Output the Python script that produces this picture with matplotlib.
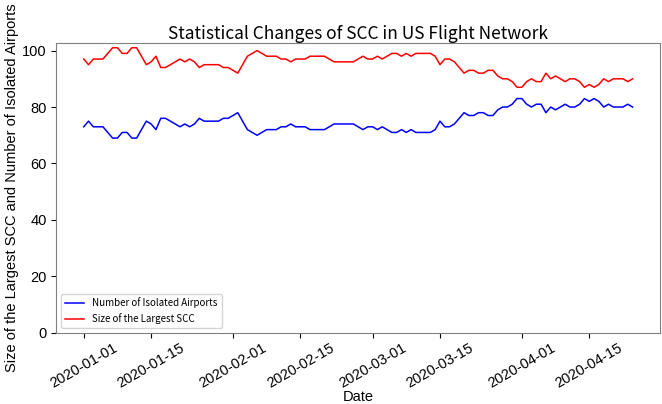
import numpy as np
import pandas as pd
import matplotlib
matplotlib.use("Agg")
import matplotlib.pyplot as plt
import matplotlib.dates as mdates

plt.rcParams['font.family'] = ['Liberation Sans', 'DejaVu Sans']

dates = pd.date_range('2020-01-01', periods=115, freq='D')

isolated = [73, 75, 73, 73, 73, 71, 69, 69, 71, 71, 69, 69, 72, 75, 74, 72, 76, 76, 75, 74,
            73, 74, 73, 74, 76, 75, 75, 75, 75, 76, 76, 77, 78, 75, 72, 71, 70, 71, 72, 72,
            72, 73, 73, 74, 73, 73, 73, 72, 72, 72, 72, 73, 74, 74, 74, 74, 74, 73, 72, 73,
            73, 72, 73, 72, 71, 71, 72, 71, 72, 71, 71, 71, 71, 72, 75, 73, 73, 74, 76, 78,
            77, 77, 78, 78, 77, 77, 79, 80, 80, 81, 83, 83, 81, 80, 81, 81, 78, 80, 79, 80,
            81, 80, 80, 81, 83, 82, 83, 82, 80, 81, 80, 80, 80, 81, 80]

largest_scc = [97, 95, 97, 97, 97, 99, 101, 101, 99, 99, 101, 101, 98, 95, 96, 98, 94, 94, 95, 96,
               97, 96, 97, 96, 94, 95, 95, 95, 95, 94, 94, 93, 92, 95, 98, 99, 100, 99, 98, 98,
               98, 97, 97, 96, 97, 97, 97, 98, 98, 98, 98, 97, 96, 96, 96, 96, 96, 97, 98, 97,
               97, 98, 97, 98, 99, 99, 98, 99, 98, 99, 99, 99, 99, 98, 95, 97, 97, 96, 94, 92,
               93, 93, 92, 92, 93, 93, 91, 90, 90, 89, 87, 87, 89, 90, 89, 89, 92, 90, 91, 90,
               89, 90, 90, 89, 87, 88, 87, 88, 90, 89, 90, 90, 90, 89, 90]

fig = plt.figure(figsize=(6.62, 4.04), dpi=100)
ax = fig.add_axes([0.085, 0.176, 0.912, 0.717])

ax.plot(dates, isolated, color='blue', linewidth=1.1, label='Number of Isolated Airports')
ax.plot(dates, largest_scc, color='red', linewidth=1.1, label='Size of the Largest SCC')

ax.set_ylim(0, 102.6)
ax.set_yticks([0, 20, 40, 60, 80, 100])
ax.xaxis.set_major_locator(mdates.DayLocator(bymonthday=[1, 15]))
ax.xaxis.set_major_formatter(mdates.DateFormatter('%Y-%m-%d'))
plt.xticks(rotation=30)
ax.tick_params(labelsize=10.5)
ax.tick_params(axis='x', pad=2)

for s in ax.spines.values():
    s.set_color('gray')

ax.set_title('Statistical Changes of SCC in US Flight Network', fontsize=12.5, pad=3,
             family=['Noto Sans CJK JP', 'DejaVu Sans'])
ax.set_xlabel('Date', fontsize=10.5, labelpad=0)
ax.set_ylabel('Size of the Largest SCC and Number of Isolated Airports', fontsize=10.5, labelpad=2)
ax.legend(loc='lower left', prop={'family': ['Noto Sans CJK JP'], 'size': 7})

fig.savefig('out.png', dpi=100)
